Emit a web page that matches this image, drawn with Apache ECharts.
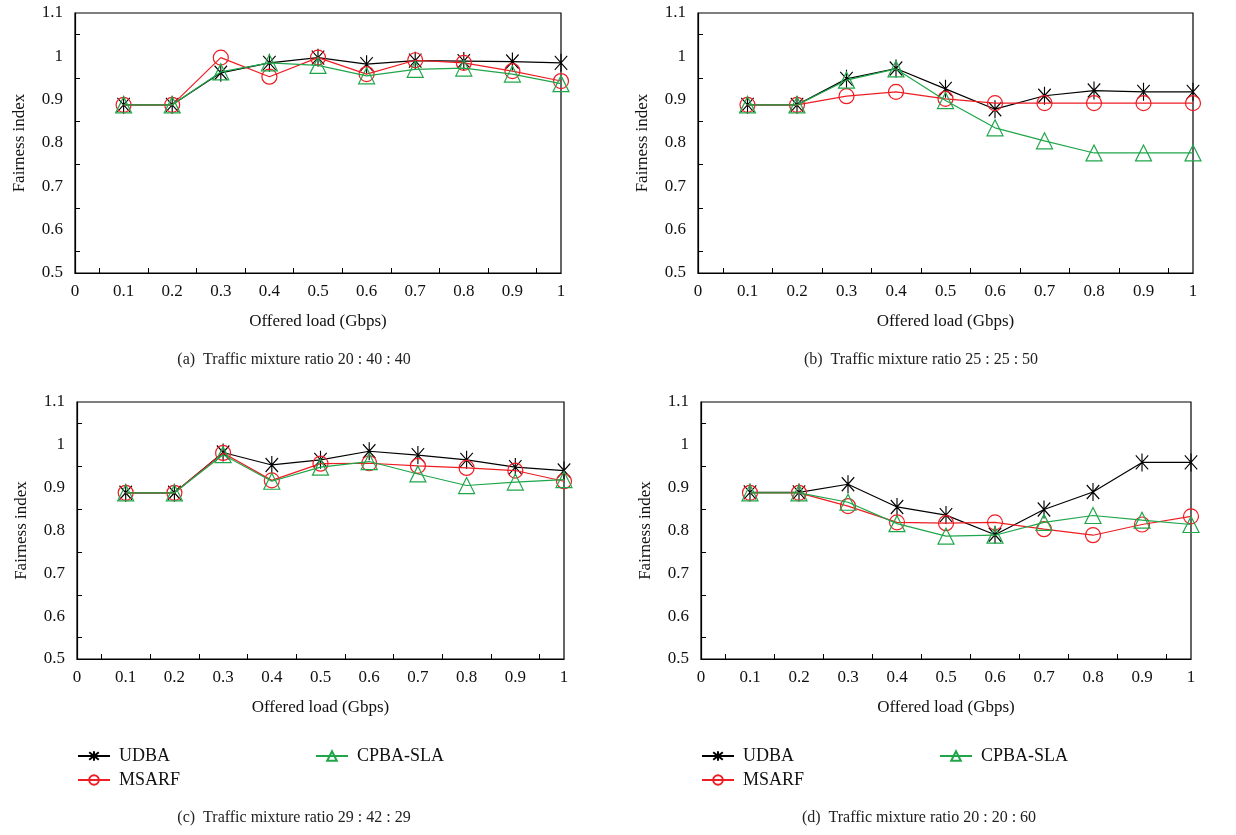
<!DOCTYPE html>
<html>
<head>
<meta charset="utf-8">
<script src="https://cdn.jsdelivr.net/npm/echarts@6/dist/echarts.min.js"></script>
<style>
  html, body { margin: 0; padding: 0; background: #fff; }
  #chart { width: 1236px; height: 835px; }
</style>
</head>
<body>
<div id="chart"></div>
<script>
const loads = [0.1, 0.2, 0.3, 0.4, 0.5, 0.6, 0.7, 0.8, 0.9, 1];
const seriesNames = ['UDBA', 'MSARF', 'CPBA-SLA'];
const captions = [
  '(a)  Traffic mixture ratio 20 : 40 : 40',
  '(b)  Traffic mixture ratio 25 : 25 : 50',
  '(c)  Traffic mixture ratio 29 : 42 : 29',
  '(d)  Traffic mixture ratio 20 : 20 : 60'
];

// panel (a)
const udbaA = [0.888, 0.888, 0.962, 0.985, 0.997, 0.982, 0.990, 0.989, 0.988, 0.985];
const msarfA = [0.888, 0.888, 0.997, 0.953, 0.997, 0.959, 0.991, 0.985, 0.966, 0.943];
const cpbaA = [0.888, 0.888, 0.964, 0.985, 0.979, 0.955, 0.970, 0.973, 0.959, 0.937];
// panel (b)
const udbaB = [0.888, 0.888, 0.948, 0.972, 0.925, 0.878, 0.909, 0.921, 0.918, 0.918];
const msarfB = [0.888, 0.888, 0.908, 0.918, 0.902, 0.892, 0.892, 0.892, 0.892, 0.892];
const cpbaB = [0.888, 0.888, 0.945, 0.971, 0.898, 0.835, 0.805, 0.777, 0.777, 0.777];
// panel (c)
const udbaC = [0.888, 0.888, 0.982, 0.953, 0.965, 0.985, 0.976, 0.965, 0.948, 0.940];
const msarfC = [0.888, 0.888, 0.981, 0.917, 0.956, 0.957, 0.951, 0.946, 0.940, 0.915];
const cpbaC = [0.888, 0.888, 0.977, 0.915, 0.948, 0.961, 0.932, 0.905, 0.913, 0.919];
// panel (d)
const udbaD = [0.889, 0.889, 0.908, 0.855, 0.836, 0.790, 0.849, 0.890, 0.959, 0.959];
const msarfD = [0.888, 0.888, 0.857, 0.819, 0.817, 0.819, 0.803, 0.789, 0.814, 0.833];
const cpbaD = [0.888, 0.888, 0.866, 0.816, 0.787, 0.789, 0.819, 0.835, 0.824, 0.814];

const panels = [
  [udbaA, msarfA, cpbaA],
  [udbaB, msarfB, cpbaB],
  [udbaC, msarfC, cpbaC],
  [udbaD, msarfD, cpbaD]
];

const FONT = '"Liberation Serif", "DejaVu Serif", serif';
const colors = ['#000000', '#ee1d23', '#1fa64a'];
const symbols = [
  'path://M1,2L15,16M15,2L1,16M8,0L8,18',
  'circle',
  'triangle'
];
const symbolSizes = [[16, 18], 15, 16];

const grids = [
  { left: 75, top: 13, width: 486, height: 260 },
  { left: 698, top: 13, width: 495, height: 260 },
  { left: 77, top: 402, width: 487, height: 257 },
  { left: 701, top: 402, width: 490, height: 257 }
];

function fmt(v) {
  return String(+v.toFixed(1));
}

function makeXAxis(i) {
  return {
    type: 'value', gridIndex: i, min: 0, max: 1, interval: 0.1,
    name: 'Offered load (Gbps)', nameLocation: 'middle', nameGap: 40,
    nameTextStyle: { fontFamily: FONT, fontSize: 17, color: '#111' },
    axisLine: { lineStyle: { color: '#000', width: 1.2 } },
    axisTick: { show: false, inside: true },
    minorTick: { show: true, splitNumber: 2, length: 5, lineStyle: { color: '#000' } },
    splitLine: { show: false },
    axisLabel: { formatter: fmt, fontFamily: FONT, fontSize: 17, color: '#111', margin: 10 }
  };
}

function makeYAxis(i) {
  return {
    type: 'value', gridIndex: i, min: 0.5, max: 1.1, interval: 0.1,
    name: 'Fairness index', nameLocation: 'middle', nameGap: 47,
    nameTextStyle: { fontFamily: FONT, fontSize: 17, color: '#111' },
    axisLine: { lineStyle: { color: '#000', width: 1.2 } },
    axisTick: { show: false, inside: true },
    minorTick: { show: true, splitNumber: 2, length: 5, lineStyle: { color: '#000' } },
    splitLine: { show: false },
    axisLabel: { formatter: fmt, fontFamily: FONT, fontSize: 17, color: '#111', margin: 12 }
  };
}

const series = [];
panels.forEach((vals, p) => {
  vals.forEach((arr, k) => {
    series.push({
      name: seriesNames[k],
      type: 'line',
      xAxisIndex: p,
      yAxisIndex: p,
      data: loads.map((x, j) => [x, arr[j]]),
      symbol: symbols[k],
      symbolSize: symbolSizes[k],
      symbolKeepAspect: true,
      color: colors[k],
      lineStyle: { color: colors[k], width: 1.2 },
      itemStyle: { color: 'transparent', borderColor: colors[k], borderWidth: 1.2 },
      emphasis: { disabled: true },
      animation: false,
      z: 2 + k
    });
  });
});

function makeLegends(left, top) {
  const base = {
    orient: 'vertical', itemWidth: 32, itemHeight: 12, itemGap: 6,
    textStyle: { fontFamily: FONT, fontSize: 18, color: '#111', padding: [0, 0, 0, 4] },
    selectedMode: false
  };
  return [
    Object.assign({}, base, { left: left, top: top, data: ['UDBA', 'MSARF'] }),
    Object.assign({}, base, { left: left + 238, top: top, data: ['CPBA-SLA'] })
  ];
}

const captionPos = [[294, 360], [921, 360], [294, 818], [919, 818]];

const option = {
  backgroundColor: '#fff',
  animation: false,
  grid: grids.map(g => Object.assign({ show: true, borderColor: '#000', borderWidth: 1.2, backgroundColor: 'transparent' }, g)),
  xAxis: grids.map((g, i) => makeXAxis(i)),
  yAxis: grids.map((g, i) => makeYAxis(i)),
  legend: makeLegends(72, 742).concat(makeLegends(696, 742)),
  graphic: captions.map((t, i) => ({
    type: 'text',
    x: captionPos[i][0],
    y: captionPos[i][1],
    style: {
      text: t, fontFamily: FONT, fontSize: 16, fill: '#222',
      align: 'center', verticalAlign: 'middle'
    }
  })),
  series: series
};

const chart = echarts.init(document.getElementById('chart'));
chart.setOption(option);
</script>
</body>
</html>
